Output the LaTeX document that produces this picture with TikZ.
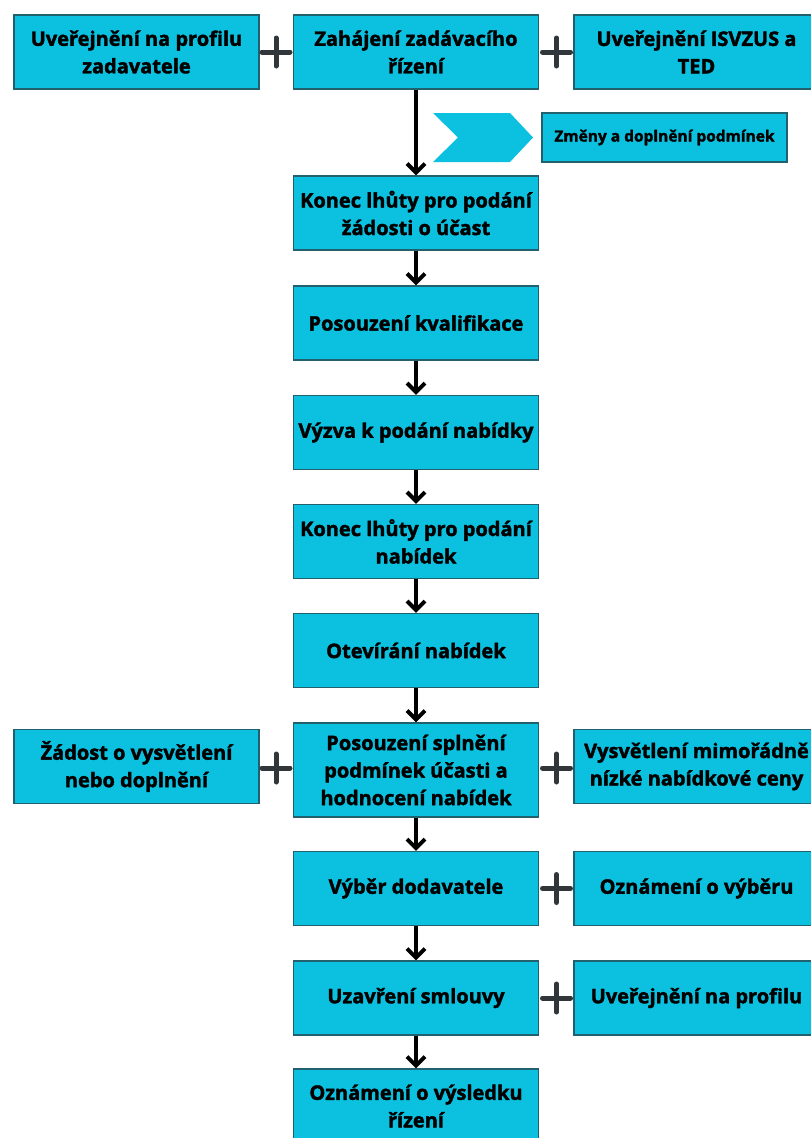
\documentclass[tikz,border=0pt]{standalone}
\usepackage{fontspec}
\setmainfont{Open Sans}[BoldFeatures={FakeBold=1.8}]
\usetikzlibrary{arrows.meta}
\definecolor{boxfill}{HTML}{0CC0DF}
\definecolor{boxline}{HTML}{22606E}
\definecolor{plusgray}{HTML}{30363A}
\tikzset{
  stage/.style={draw=boxline, line width=1.2pt, fill=boxfill, minimum width=245pt,
    minimum height=74pt, inner sep=0pt, align=center, text=black,
    font=\fontsize{20}{27.5}\selectfont\bfseries},
  tallstage/.style={stage, minimum height=94pt},
  note/.style={stage, minimum height=49pt, font=\fontsize{15.5}{20}\selectfont\bfseries},
  flow/.style={line width=4pt, -{Straight Barb[length=9pt, width=18pt, line width=4pt]}},
  plusbar/.style={draw=plusgray, line width=5pt, line cap=round}
}
\newcommand{\plussign}[2]{%
  \draw[plusbar] (#1-14,#2) -- (#1+14,#2);
  \draw[plusbar] (#1,#2-14) -- (#1,#2+14);}
\begin{document}
\begin{tikzpicture}[x=1pt, y=-1pt]
\useasboundingbox (0,0) rectangle (811,1138);
\clip (0,0) rectangle (811,1138);
\fill[white] (0,0) rectangle (811,1138);

% top row
\node[stage] (pub)   at (136.5,52) {Uveřejnění na profilu\\zadavatele};
\node[stage] (start) at (416,52)   {Zahájení zadávacího\\řízení};
\node[stage] (isvz)  at (696.5,52) {Uveřejnění ISVZUS a\\TED};
\plussign{276}{52}
\plussign{556.5}{52}

% change notice with chevron
\fill[boxfill] (433,113) -- (510,113) -- (533,137.5) -- (510,162) -- (433,162) -- (458,137.5) -- cycle;
\node[note, minimum width=245pt] (chg) at (664.5,137.5) {Změny a doplnění podmínek};

% main sequence
\node[stage] (s1) at (416,213)   {Konec lhůty pro podání\\žádosti o účast};
\node[stage] (s2) at (416,323)   {Posouzení kvalifikace};
\node[stage] (s3) at (416,432.5) {Výzva k podání nabídky};
\node[stage] (s4) at (416,541.5) {Konec lhůty pro podání\\nabídek};
\node[stage] (s5) at (416,650.5) {Otevírání nabídek};
\node[tallstage] (s6) at (416,770) {Posouzení splnění\\podmínek účasti a\\hodnocení nabídek};
\node[stage] (s7) at (416,888.5) {Výběr dodavatele};
\node[stage] (s8) at (416,998)   {Uzavření smlouvy};
\node[stage] (s9) at (416,1106)  {Oznámení o výsledku\\řízení};

% side steps
\node[stage] (ask)   at (136.5,766.5) {Žádost o vysvětlení\\nebo doplnění};
\node[stage] (low)   at (696.5,766.5) {Vysvětlení mimořádně\\nízké nabídkové ceny};
\node[stage] (sel)   at (696.5,888.5) {Oznámení o výběru};
\node[stage] (prof)  at (696.5,998)   {Uveřejnění na profilu};
\plussign{276}{768}
\plussign{556.5}{768}
\plussign{556.5}{888.5}
\plussign{556.5}{998}

% arrows
\draw[flow] (start.south) -- (s1.north);
\draw[flow] (s1.south) -- (s2.north);
\draw[flow] (s2.south) -- (s3.north);
\draw[flow] (s3.south) -- (s4.north);
\draw[flow] (s4.south) -- (s5.north);
\draw[flow] (s5.south) -- (s6.north);
\draw[flow] (s6.south) -- (s7.north);
\draw[flow] (s7.south) -- (s8.north);
\draw[flow] (s8.south) -- (s9.north);
\end{tikzpicture}
\end{document}
